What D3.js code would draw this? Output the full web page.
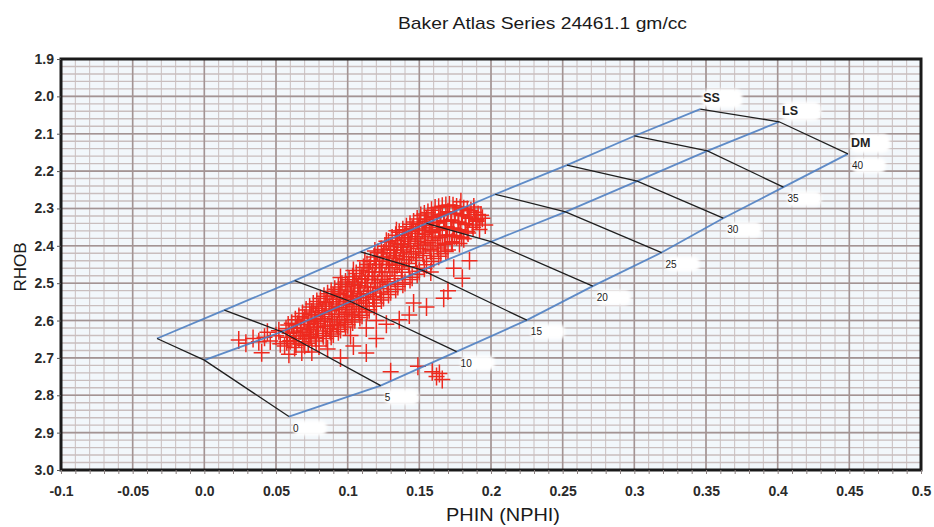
<!DOCTYPE html>
<html>
<head>
<meta charset="utf-8">
<script src="https://cdn.jsdelivr.net/npm/d3@7"></script>
<style>
  body { margin: 0; background: #fff; }
  text { font-family: "Liberation Sans", Arial, sans-serif; }
</style>
</head>
<body>
<script>
// chart values
const porosity = [0, 5, 10, 15, 20, 25, 30, 35, 40];
const ssPhin = [-0.033, 0.014, 0.063, 0.109, 0.155, 0.203, 0.253, 0.300, 0.346];
const ssRhob = [2.648, 2.572, 2.493, 2.416, 2.340, 2.262, 2.184, 2.106, 2.034];
const lsPhin = [0.000, 0.054, 0.102, 0.152, 0.200, 0.252, 0.302, 0.351, 0.401];
const lsRhob = [2.706, 2.630, 2.549, 2.465, 2.389, 2.309, 2.227, 2.146, 2.068];
const dmPhin = [0.059, 0.123, 0.176, 0.225, 0.271, 0.319, 0.362, 0.404, 0.449];
const dmRhob = [2.857, 2.774, 2.683, 2.599, 2.508, 2.418, 2.326, 2.243, 2.154];
const lithNames = ["SS", "LS", "DM"];

const xTickValues = [-0.1, -0.05, 0, 0.05, 0.1, 0.15, 0.2, 0.25, 0.3, 0.35, 0.4, 0.45, 0.5];
const xTickLabels = ["-0.1", "-0.05", "0.0", "0.05", "0.1", "0.15", "0.2", "0.25", "0.3", "0.35", "0.4", "0.45", "0.5"];
const yTickValues = [1.9, 2.0, 2.1, 2.2, 2.3, 2.4, 2.5, 2.6, 2.7, 2.8, 2.9, 3.0];
const yTickLabels = ["1.9", "2.0", "2.1", "2.2", "2.3", "2.4", "2.5", "2.6", "2.7", "2.8", "2.9", "3.0"];

// log samples [PHIN, RHOB]
const logPoints = [
  [0.024,2.652],[0.029,2.661],[0.034,2.648],[0.038,2.657],[0.042,2.645],[0.046,2.655],[0.05,2.641],[0.053,2.662],[0.044,2.631],[0.052,2.627],
  [0.057,2.622],[0.058,2.645],[0.056,2.668],[0.061,2.607],[0.062,2.631],[0.06,2.654],[0.063,2.672],
  [0.066,2.589],[0.065,2.61],[0.067,2.628],[0.066,2.648],[0.064,2.662],[0.068,2.684],
  [0.071,2.572],[0.07,2.593],[0.072,2.611],[0.071,2.632],[0.073,2.649],[0.07,2.666],
  [0.076,2.556],[0.075,2.577],[0.077,2.598],[0.076,2.617],[0.074,2.637],[0.078,2.655],
  [0.081,2.541],[0.08,2.562],[0.082,2.579],[0.081,2.602],[0.079,2.618],[0.083,2.641],[0.08,2.668],
  [0.086,2.528],[0.085,2.551],[0.087,2.569],[0.084,2.589],[0.086,2.612],[0.088,2.629],[0.085,2.648],
  [0.091,2.516],[0.09,2.534],[0.092,2.556],[0.089,2.574],[0.091,2.597],[0.093,2.613],[0.09,2.636],
  [0.096,2.503],[0.095,2.527],[0.097,2.544],[0.094,2.566],[0.096,2.583],[0.098,2.606],[0.095,2.624],
  [0.101,2.491],[0.1,2.508],[0.102,2.532],[0.099,2.549],[0.101,2.571],[0.103,2.588],[0.1,2.611],
  [0.106,2.474],[0.105,2.497],[0.107,2.513],[0.104,2.536],[0.106,2.554],[0.108,2.577],[0.105,2.598],
  [0.111,2.458],[0.11,2.481],[0.112,2.498],[0.109,2.522],[0.111,2.539],[0.113,2.562],[0.11,2.586],
  [0.116,2.441],[0.115,2.459],[0.117,2.482],[0.114,2.499],[0.116,2.521],[0.118,2.544],[0.115,2.571],
  [0.121,2.418],[0.12,2.441],[0.122,2.458],[0.119,2.481],[0.121,2.499],[0.123,2.526],[0.12,2.553],
  [0.126,2.401],[0.125,2.419],[0.127,2.442],[0.124,2.459],[0.126,2.481],[0.128,2.504],[0.125,2.538],
  [0.131,2.379],[0.13,2.402],[0.132,2.419],[0.129,2.441],[0.131,2.459],[0.133,2.488],[0.13,2.523],
  [0.136,2.364],[0.135,2.386],[0.137,2.404],[0.134,2.426],[0.136,2.446],[0.138,2.471],[0.135,2.509],
  [0.141,2.349],[0.14,2.371],[0.142,2.388],[0.139,2.411],[0.141,2.429],[0.143,2.456],[0.14,2.498],
  [0.146,2.336],[0.145,2.354],[0.147,2.376],[0.144,2.394],[0.146,2.416],[0.148,2.439],[0.145,2.484],
  [0.151,2.319],[0.15,2.341],[0.152,2.359],[0.149,2.381],[0.151,2.399],[0.153,2.426],[0.15,2.468],
  [0.156,2.311],[0.155,2.329],[0.157,2.351],[0.154,2.369],[0.156,2.391],[0.158,2.414],[0.155,2.451],
  [0.161,2.299],[0.16,2.321],[0.162,2.339],[0.159,2.361],[0.161,2.379],[0.163,2.406],[0.16,2.434],
  [0.166,2.294],[0.165,2.316],[0.167,2.334],[0.164,2.356],[0.166,2.374],[0.168,2.396],[0.165,2.421],
  [0.171,2.291],[0.17,2.309],[0.172,2.331],[0.169,2.349],[0.171,2.371],[0.173,2.389],[0.17,2.411],
  [0.176,2.296],[0.175,2.314],[0.177,2.336],[0.174,2.354],[0.176,2.376],[0.178,2.394],
  [0.181,2.301],[0.18,2.319],[0.182,2.341],[0.179,2.359],[0.181,2.381],
  [0.186,2.306],[0.185,2.326],[0.187,2.344],[0.184,2.366],
  [0.191,2.316],[0.19,2.334],[0.192,2.356],[0.194,2.326],[0.196,2.344],
  // second pass of the dense band
  [0.0585,2.612],[0.0595,2.634],[0.0575,2.657],
  [0.0635,2.598],[0.0645,2.619],[0.0625,2.641],[0.0635,2.662],
  [0.0685,2.581],[0.0695,2.601],[0.0675,2.621],[0.0685,2.64],[0.0695,2.657],
  [0.0735,2.564],[0.0745,2.584],[0.0725,2.603],[0.0735,2.623],[0.0745,2.642],[0.0725,2.661],
  [0.0785,2.549],[0.0795,2.568],[0.0775,2.588],[0.0785,2.607],[0.0795,2.628],[0.0775,2.646],
  [0.0835,2.535],[0.0845,2.556],[0.0825,2.574],[0.0835,2.595],[0.0845,2.615],[0.0825,2.635],
  [0.0885,2.522],[0.0895,2.543],[0.0875,2.562],[0.0885,2.583],[0.0895,2.604],[0.0875,2.622],[0.0885,2.642],
  [0.0935,2.51],[0.0945,2.53],[0.0925,2.55],[0.0935,2.57],[0.0945,2.59],[0.0925,2.61],[0.0935,2.63],
  [0.0985,2.497],[0.0995,2.518],[0.0975,2.538],[0.0985,2.558],[0.0995,2.578],[0.0975,2.598],[0.0985,2.617],
  [0.1035,2.483],[0.1045,2.503],[0.1025,2.523],[0.1035,2.543],[0.1045,2.563],[0.1025,2.583],[0.1035,2.604],
  [0.1085,2.466],[0.1095,2.488],[0.1075,2.507],[0.1085,2.528],[0.1095,2.547],[0.1075,2.569],[0.1085,2.592],
  [0.1135,2.45],[0.1145,2.47],[0.1125,2.49],[0.1135,2.51],[0.1145,2.53],[0.1125,2.553],[0.1135,2.578],
  [0.1185,2.43],[0.1195,2.45],[0.1175,2.47],[0.1185,2.49],[0.1195,2.51],[0.1175,2.535],[0.1185,2.562],
  [0.1235,2.41],[0.1245,2.43],[0.1225,2.45],[0.1235,2.47],[0.1245,2.49],[0.1225,2.515],[0.1235,2.545],
  [0.1285,2.39],[0.1295,2.41],[0.1275,2.43],[0.1285,2.45],[0.1295,2.47],[0.1275,2.496],[0.1285,2.53],
  [0.1335,2.372],[0.1345,2.394],[0.1325,2.412],[0.1335,2.434],[0.1345,2.452],[0.1325,2.48],[0.1335,2.516],
  [0.1385,2.357],[0.1395,2.378],[0.1375,2.397],[0.1385,2.418],[0.1395,2.437],[0.1375,2.463],[0.1385,2.503],
  [0.1435,2.342],[0.1445,2.362],[0.1425,2.382],[0.1435,2.402],[0.1445,2.422],[0.1425,2.447],[0.1435,2.49],
  [0.1485,2.328],[0.1495,2.348],[0.1475,2.367],[0.1485,2.388],[0.1495,2.407],[0.1475,2.432],[0.1485,2.476],
  [0.1535,2.315],[0.1545,2.335],[0.1525,2.355],[0.1535,2.375],[0.1545,2.395],[0.1525,2.42],[0.1535,2.46],
  [0.1585,2.305],[0.1595,2.325],[0.1575,2.345],[0.1585,2.365],[0.1595,2.385],[0.1575,2.41],[0.1585,2.442],
  [0.1635,2.297],[0.1645,2.318],[0.1625,2.337],[0.1635,2.358],[0.1645,2.377],[0.1625,2.4],[0.1635,2.428],
  [0.1685,2.292],[0.1695,2.312],[0.1675,2.332],[0.1685,2.352],[0.1695,2.372],[0.1675,2.393],[0.1685,2.415],
  [0.1735,2.293],[0.1745,2.313],[0.1725,2.333],[0.1735,2.352],[0.1745,2.373],[0.1725,2.392],
  [0.1785,2.298],[0.1795,2.317],[0.1775,2.338],[0.1785,2.357],[0.1795,2.377],
  [0.1835,2.303],[0.1845,2.323],[0.1825,2.343],[0.1835,2.362],
  [0.1885,2.31],[0.1895,2.33],[0.1875,2.35],
  // upper edge of band
  [0.095,2.485],[0.104,2.466],[0.112,2.44],[0.119,2.414],[0.127,2.388],[0.134,2.36],
  // scattered
  [0.04,2.686],[0.075,2.684],[0.086,2.676],[0.095,2.70],[0.104,2.668],[0.113,2.687],[0.12,2.648],
  [0.127,2.61],[0.13,2.737],[0.136,2.598],[0.143,2.585],[0.146,2.553],[0.149,2.722],[0.155,2.564],
  [0.159,2.737],[0.162,2.75],[0.164,2.742],[0.166,2.758],[0.167,2.54],[0.17,2.52],[0.174,2.46],
  [0.18,2.487],[0.185,2.44],[0.19,2.331],[0.193,2.318],[0.188,2.296],[0.179,2.282],[0.158,2.47],
  [0.113,2.62],[0.102,2.64],[0.059,2.69],[0.12,2.6]
];

const width = 934, height = 527;
const margin = {top: 59, right: 13, bottom: 57, left: 61};

const x = d3.scaleLinear().domain([-0.1, 0.5]).range([margin.left, width - margin.right]);
const y = d3.scaleLinear().domain([1.9, 3.0]).range([margin.top, height - margin.bottom]);

const svg = d3.select("body").append("svg")
  .attr("width", width)
  .attr("height", height);

// plot background
svg.append("rect")
  .attr("x", x(-0.1)).attr("y", y(1.9))
  .attr("width", x(0.5) - x(-0.1)).attr("height", y(3.0) - y(1.9))
  .attr("fill", "#f2f7fb");

// grid: minor then major
const grid = svg.append("g");
grid.selectAll(".vminor").data(x.ticks(60)).join("line")
  .attr("x1", d => x(d)).attr("x2", d => x(d))
  .attr("y1", y(1.9)).attr("y2", y(3.0))
  .attr("stroke", "#c9bebe").attr("stroke-width", 1);
grid.selectAll(".hminor").data(y.ticks(55)).join("line")
  .attr("x1", x(-0.1)).attr("x2", x(0.5))
  .attr("y1", d => y(d)).attr("y2", d => y(d))
  .attr("stroke", "#c9bebe").attr("stroke-width", 1.4);
grid.selectAll(".vmajor").data(xTickValues).join("line")
  .attr("x1", d => x(d)).attr("x2", d => x(d))
  .attr("y1", y(1.9)).attr("y2", y(3.0))
  .attr("stroke", "#a39494").attr("stroke-width", 1.6);
grid.selectAll(".hmajor").data(yTickValues).join("line")
  .attr("x1", x(-0.1)).attr("x2", x(0.5))
  .attr("y1", d => y(d)).attr("y2", d => y(d))
  .attr("stroke", "#a39494").attr("stroke-width", 1.6);

// label backgrounds (white patches)
const blur = svg.append("defs").append("filter").attr("id", "soft");
blur.append("feGaussianBlur").attr("stdDeviation", 1.5);

const patches = svg.append("g").attr("filter", "url(#soft)").attr("fill", "#fff");
patches.selectAll("rect").data(porosity).join("rect")
  .attr("x", (d, i) => x(dmPhin[i]) + 4)
  .attr("y", (d, i) => y(dmRhob[i]) + 4)
  .attr("width", 34).attr("height", 15).attr("rx", 6);
const ends = [[ssPhin[8], ssRhob[8]], [lsPhin[8], lsRhob[8]], [dmPhin[8], dmRhob[8]]];
patches.selectAll(".end").data(ends).join("rect")
  .attr("x", d => x(d[0]) + 2)
  .attr("y", d => y(d[1]) - 20)
  .attr("width", 40).attr("height", 19).attr("rx", 7);

// log samples as + markers
const pts = svg.append("g")
  .attr("stroke", "#ee2a1f").attr("stroke-width", 1.5).attr("fill", "none");
pts.selectAll("path").data(logPoints).join("path")
  .attr("d", d => {
    const cx = x(d[0]), cy = y(d[1]);
    return `M${cx - 8},${cy}H${cx + 8}M${cx},${cy - 9}V${cy + 9}`;
  });

// lithology lines (blue)
const line = d3.line().x(d => x(d[0])).y(d => y(d[1]));
const lith = [
  ssPhin.map((p, i) => [p, ssRhob[i]]),
  lsPhin.map((p, i) => [p, lsRhob[i]]),
  dmPhin.map((p, i) => [p, dmRhob[i]])
];
svg.append("g").selectAll("path").data(lith).join("path")
  .attr("d", line)
  .attr("fill", "none")
  .attr("stroke", "#4f7fc2").attr("stroke-width", 1.8).attr("stroke-opacity", 0.9);

// iso-porosity lines (black)
svg.append("g").selectAll("path").data(porosity).join("path")
  .attr("d", (d, i) => line([[ssPhin[i], ssRhob[i]], [lsPhin[i], lsRhob[i]], [dmPhin[i], dmRhob[i]]]))
  .attr("fill", "none")
  .attr("stroke", "#1f1f1f").attr("stroke-width", 1.3);

// porosity labels
svg.append("g").selectAll("text").data(porosity).join("text")
  .attr("x", (d, i) => x(dmPhin[i]) + 4)
  .attr("y", (d, i) => y(dmRhob[i]) + 15)
  .attr("font-size", 10)
  .attr("fill", "#222")
  .text(d => d);

svg.append("g").selectAll("text").data(ends).join("text")
  .attr("x", d => x(d[0]) + 3)
  .attr("y", d => y(d[1]) - 7)
  .attr("font-size", 12.5)
  .attr("font-weight", "bold")
  .attr("fill", "#222")
  .text((d, i) => lithNames[i]);

// frame
svg.append("rect")
  .attr("x", x(-0.1)).attr("y", y(1.9))
  .attr("width", x(0.5) - x(-0.1)).attr("height", y(3.0) - y(1.9))
  .attr("fill", "none").attr("stroke", "#1a1a1a").attr("stroke-width", 3);

// axes
const xMinor = svg.append("g")
  .attr("transform", `translate(0,${y(3.0)})`)
  .call(d3.axisBottom(x).ticks(60).tickSize(4).tickFormat(""));
xMinor.select(".domain").remove();
xMinor.selectAll("line").attr("stroke", "#8a8080");

const xAxis = svg.append("g")
  .attr("transform", `translate(0,${y(3.0)})`)
  .call(d3.axisBottom(x).tickValues(xTickValues).tickSize(0).tickPadding(16)
    .tickFormat((d, i) => xTickLabels[i]));
xAxis.select(".domain").remove();
xAxis.selectAll("text")
  .attr("font-size", 14).attr("font-weight", "bold").attr("fill", "#2a2a2a")
  .style("font-family", "'Liberation Sans', Arial, sans-serif");

const yAxis = svg.append("g")
  .attr("transform", `translate(${x(-0.1)},0)`)
  .call(d3.axisLeft(y).tickValues(yTickValues).tickSize(4).tickPadding(3)
    .tickFormat((d, i) => yTickLabels[i]));
yAxis.select(".domain").remove();
yAxis.selectAll("line").attr("stroke", "#555");
yAxis.selectAll("text")
  .attr("font-size", 14).attr("font-weight", "bold").attr("fill", "#2a2a2a")
  .style("font-family", "'Liberation Sans', Arial, sans-serif");

// titles
svg.append("text")
  .attr("x", 398).attr("y", 29)
  .attr("font-size", 17).attr("fill", "#1a1a1a")
  .attr("textLength", 289).attr("lengthAdjust", "spacingAndGlyphs")
  .text("Baker Atlas Series 24461.1 gm/cc");

svg.append("text")
  .attr("x", 446).attr("y", 521)
  .attr("font-size", 18).attr("fill", "#1a1a1a")
  .attr("textLength", 114).attr("lengthAdjust", "spacingAndGlyphs")
  .text("PHIN (NPHI)");

svg.append("text")
  .attr("transform", "translate(26,267) rotate(-90)")
  .attr("text-anchor", "middle")
  .attr("font-size", 17).attr("fill", "#1a1a1a")
  .text("RHOB");
</script>
</body>
</html>
